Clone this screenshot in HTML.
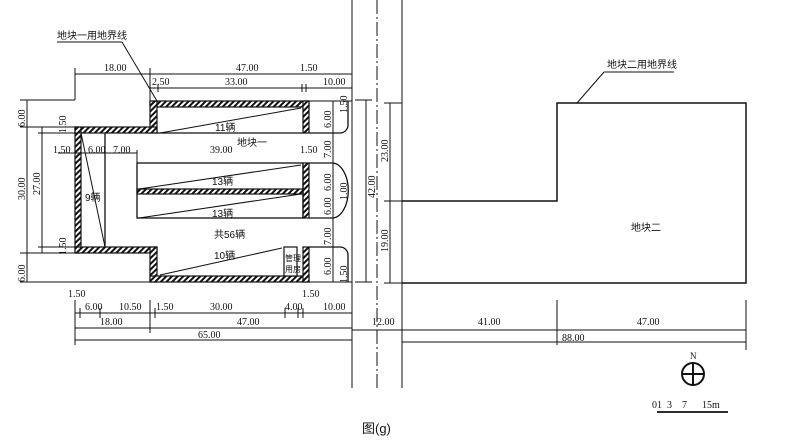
<!DOCTYPE html>
<html><head><meta charset="utf-8"><style>
html,body{margin:0;padding:0;background:#fff}
svg{display:block}
text{font-family:"Liberation Serif","Noto Serif CJK SC",serif;font-size:10px;fill:#111}
.c{font-family:"Liberation Sans","Noto Sans CJK SC",sans-serif;font-size:10px}
</style></head><body>
<svg width="785" height="442" viewBox="0 0 785 442" xmlns="http://www.w3.org/2000/svg">
<defs>
<pattern id="h" patternUnits="userSpaceOnUse" width="4" height="4" patternTransform="rotate(45)">
<rect width="4" height="4" fill="#fff"/><rect width="2" height="4" fill="#111"/></pattern>
</defs>
<g stroke="#111" fill="none" stroke-width="1">
<line x1="352" y1="0" x2="352" y2="388"/>
<line x1="377" y1="0" x2="377" y2="388" stroke-dasharray="14,3,2,3"/>
<line x1="402" y1="0" x2="402" y2="388"/>
<polyline points="402,201 557,201 557,103 746,103 746,283 402,283" stroke-width="1.5"/>
<line x1="604" y1="72" x2="674" y2="72"/>
<line x1="604" y1="72" x2="577" y2="103"/>
<line x1="57" y1="42" x2="122" y2="42"/>
<line x1="122" y1="42" x2="157" y2="101"/>
<g fill="url(#h)" stroke-width="1.2">
<rect x="150" y="101" width="159" height="6"/>
<rect x="150" y="101" width="7" height="32"/>
<rect x="75" y="127" width="82" height="6"/>
<rect x="75" y="127" width="6" height="126"/>
<rect x="75" y="247" width="82" height="6"/>
<rect x="150" y="247" width="7" height="35"/>
<rect x="150" y="276" width="159" height="6"/>
<rect x="303" y="101" width="6" height="32"/>
<rect x="303" y="163" width="6" height="55"/>
<rect x="303" y="247" width="6" height="35"/>
<rect x="137" y="189" width="166" height="5"/>
</g>
<rect x="284" y="247" width="13" height="29" fill="#fff" stroke-width="1.2"/>
<line x1="157" y1="133" x2="303" y2="133" stroke-width="1.3"/>
<rect x="137" y="163" width="166" height="55" stroke-width="1.3"/>
<line x1="105" y1="133" x2="105" y2="247" stroke-width="1.3"/>
<line x1="81" y1="133" x2="105" y2="247"/>
<line x1="160" y1="133" x2="301" y2="108"/>
<line x1="139" y1="189" x2="301" y2="165"/>
<line x1="139" y1="218" x2="301" y2="194"/>
<line x1="160" y1="275" x2="282" y2="248"/>
<path d="M309,133 H340 A8,8 0 0 0 348,125 V101" stroke-width="1.3"/>
<path d="M309,163 H332 A16,27 0 0 1 332,218 H309" stroke-width="1.3"/>
<path d="M309,247 H340 A8,8 0 0 1 348,255 V282" stroke-width="1.3"/>
<line x1="309" y1="282" x2="352" y2="282"/>
<line x1="309" y1="101" x2="352" y2="101"/>
<line x1="75" y1="74" x2="352" y2="74"/>
<line x1="150" y1="88" x2="352" y2="88"/>
<line x1="75" y1="68" x2="75" y2="100"/>
<line x1="150" y1="68" x2="150" y2="101"/>
<line x1="158" y1="84" x2="158" y2="92"/>
<line x1="302" y1="84" x2="302" y2="92"/>
<line x1="306" y1="84" x2="306" y2="92"/>
<line x1="27" y1="100" x2="27" y2="282"/>
<line x1="42" y1="127" x2="42" y2="253"/>
<line x1="20" y1="100" x2="75" y2="100"/>
<line x1="20" y1="282" x2="150" y2="282"/>
<line x1="20" y1="127" x2="75" y2="127"/>
<line x1="20" y1="253" x2="75" y2="253"/>
<line x1="38" y1="133" x2="82" y2="133"/>
<line x1="38" y1="247" x2="82" y2="247"/>
<line x1="58" y1="153" x2="137" y2="153"/>
<line x1="137" y1="150" x2="137" y2="163"/>
<line x1="333" y1="101" x2="333" y2="282"/>
<line x1="366" y1="100" x2="366" y2="282"/>
<line x1="390" y1="103" x2="390" y2="283"/>
<line x1="355" y1="100" x2="372" y2="100"/>
<line x1="355" y1="282" x2="372" y2="282"/>
<line x1="384" y1="103" x2="402" y2="103"/>
<line x1="384" y1="201" x2="402" y2="201"/>
<line x1="384" y1="283" x2="402" y2="283"/>
<line x1="75" y1="313" x2="352" y2="313"/>
<line x1="75" y1="328" x2="352" y2="328"/>
<line x1="75" y1="340" x2="352" y2="340"/>
<line x1="75" y1="300" x2="75" y2="345"/>
<line x1="150" y1="300" x2="150" y2="333"/>
<line x1="352" y1="300" x2="352" y2="345"/>
<g><line x1="80" y1="308" x2="80" y2="318"/><line x1="100" y1="308" x2="100" y2="318"/><line x1="155" y1="308" x2="155" y2="318"/><line x1="285" y1="308" x2="285" y2="318"/><line x1="298" y1="308" x2="298" y2="318"/><line x1="303" y1="308" x2="303" y2="318"/></g>
<line x1="352" y1="330" x2="746" y2="330"/>
<line x1="402" y1="342" x2="746" y2="342"/>
<line x1="557" y1="300" x2="557" y2="345"/>
<line x1="746" y1="300" x2="746" y2="350"/>
<circle cx="693" cy="374" r="11" stroke-width="2"/>
<line x1="682" y1="374" x2="704" y2="374" stroke-width="2"/>
<line x1="693" y1="363" x2="693" y2="385" stroke-width="2"/>
<line x1="657" y1="412" x2="728" y2="412" stroke-width="1.8"/>
</g>
<text class="c" x="57" y="39">地块一用地界线</text>
<text class="c" x="607" y="68">地块二用地界线</text>
<text class="c" x="631" y="231">地块二</text>
<text x="104" y="71">18.00</text><text x="236" y="71">47.00</text><text x="300" y="71">1.50</text>
<text x="152" y="85">2.50</text><text x="225" y="85">33.00</text><text x="323" y="85">10.00</text>
<text class="c" x="215" y="131">11辆</text><text class="c" x="237" y="146">地块一</text>
<text x="53" y="153">1.50</text><text x="88" y="153">6.00</text><text x="113" y="153">7.00</text>
<text x="210" y="153">39.00</text><text x="300" y="153">1.50</text>
<text class="c" x="212" y="185">13辆</text><text class="c" x="212" y="217">13辆</text>
<text class="c" x="85" y="201">9辆</text><text class="c" x="214" y="238">共56辆</text>
<text class="c" x="214" y="259">10辆</text>
<text class="c" x="285" y="261" style="font-size:8px">管理</text><text class="c" x="285" y="272" style="font-size:8px">用房</text>
<g transform="rotate(-90)">
<text x="-127" y="25">6.00</text><text x="-200" y="25">30.00</text><text x="-282" y="25">6.00</text>
<text x="-195" y="40">27.00</text>
<text x="-133" y="66">1.50</text><text x="-255" y="66">1.50</text>
<text x="-128" y="331">6.00</text><text x="-158" y="331">7.00</text><text x="-191" y="331">6.00</text>
<text x="-215" y="331">6.00</text><text x="-245" y="331">7.00</text><text x="-275" y="331">6.00</text>
<text x="-113" y="347">1.50</text><text x="-200" y="347">1.00</text><text x="-283" y="347">1.50</text>
<text x="-198" y="375">42.00</text>
<text x="-162" y="388">23.00</text><text x="-252" y="388">19.00</text>
</g>
<text x="68" y="297">1.50</text><text x="302" y="297">1.50</text>
<text x="85" y="310">6.00</text><text x="119" y="310">10.50</text><text x="156" y="310">1.50</text>
<text x="210" y="310">30.00</text><text x="285" y="310">4.00</text><text x="323" y="310">10.00</text>
<text x="100" y="325">18.00</text><text x="237" y="325">47.00</text><text x="198" y="338">65.00</text>
<text x="372" y="325">12.00</text><text x="478" y="325">41.00</text><text x="637" y="325">47.00</text>
<text x="562" y="341">88.00</text>
<text x="690" y="359" style="font-size:9px">N</text>
<text x="652" y="408">01&#160;&#160;3&#160;&#160;&#160;&#160;7&#160;&#160;&#160;&#160;&#160;&#160;15m</text>
<text class="c" x="362" y="433" style="font-size:13px">图(g)</text>
</svg>
</body></html>
